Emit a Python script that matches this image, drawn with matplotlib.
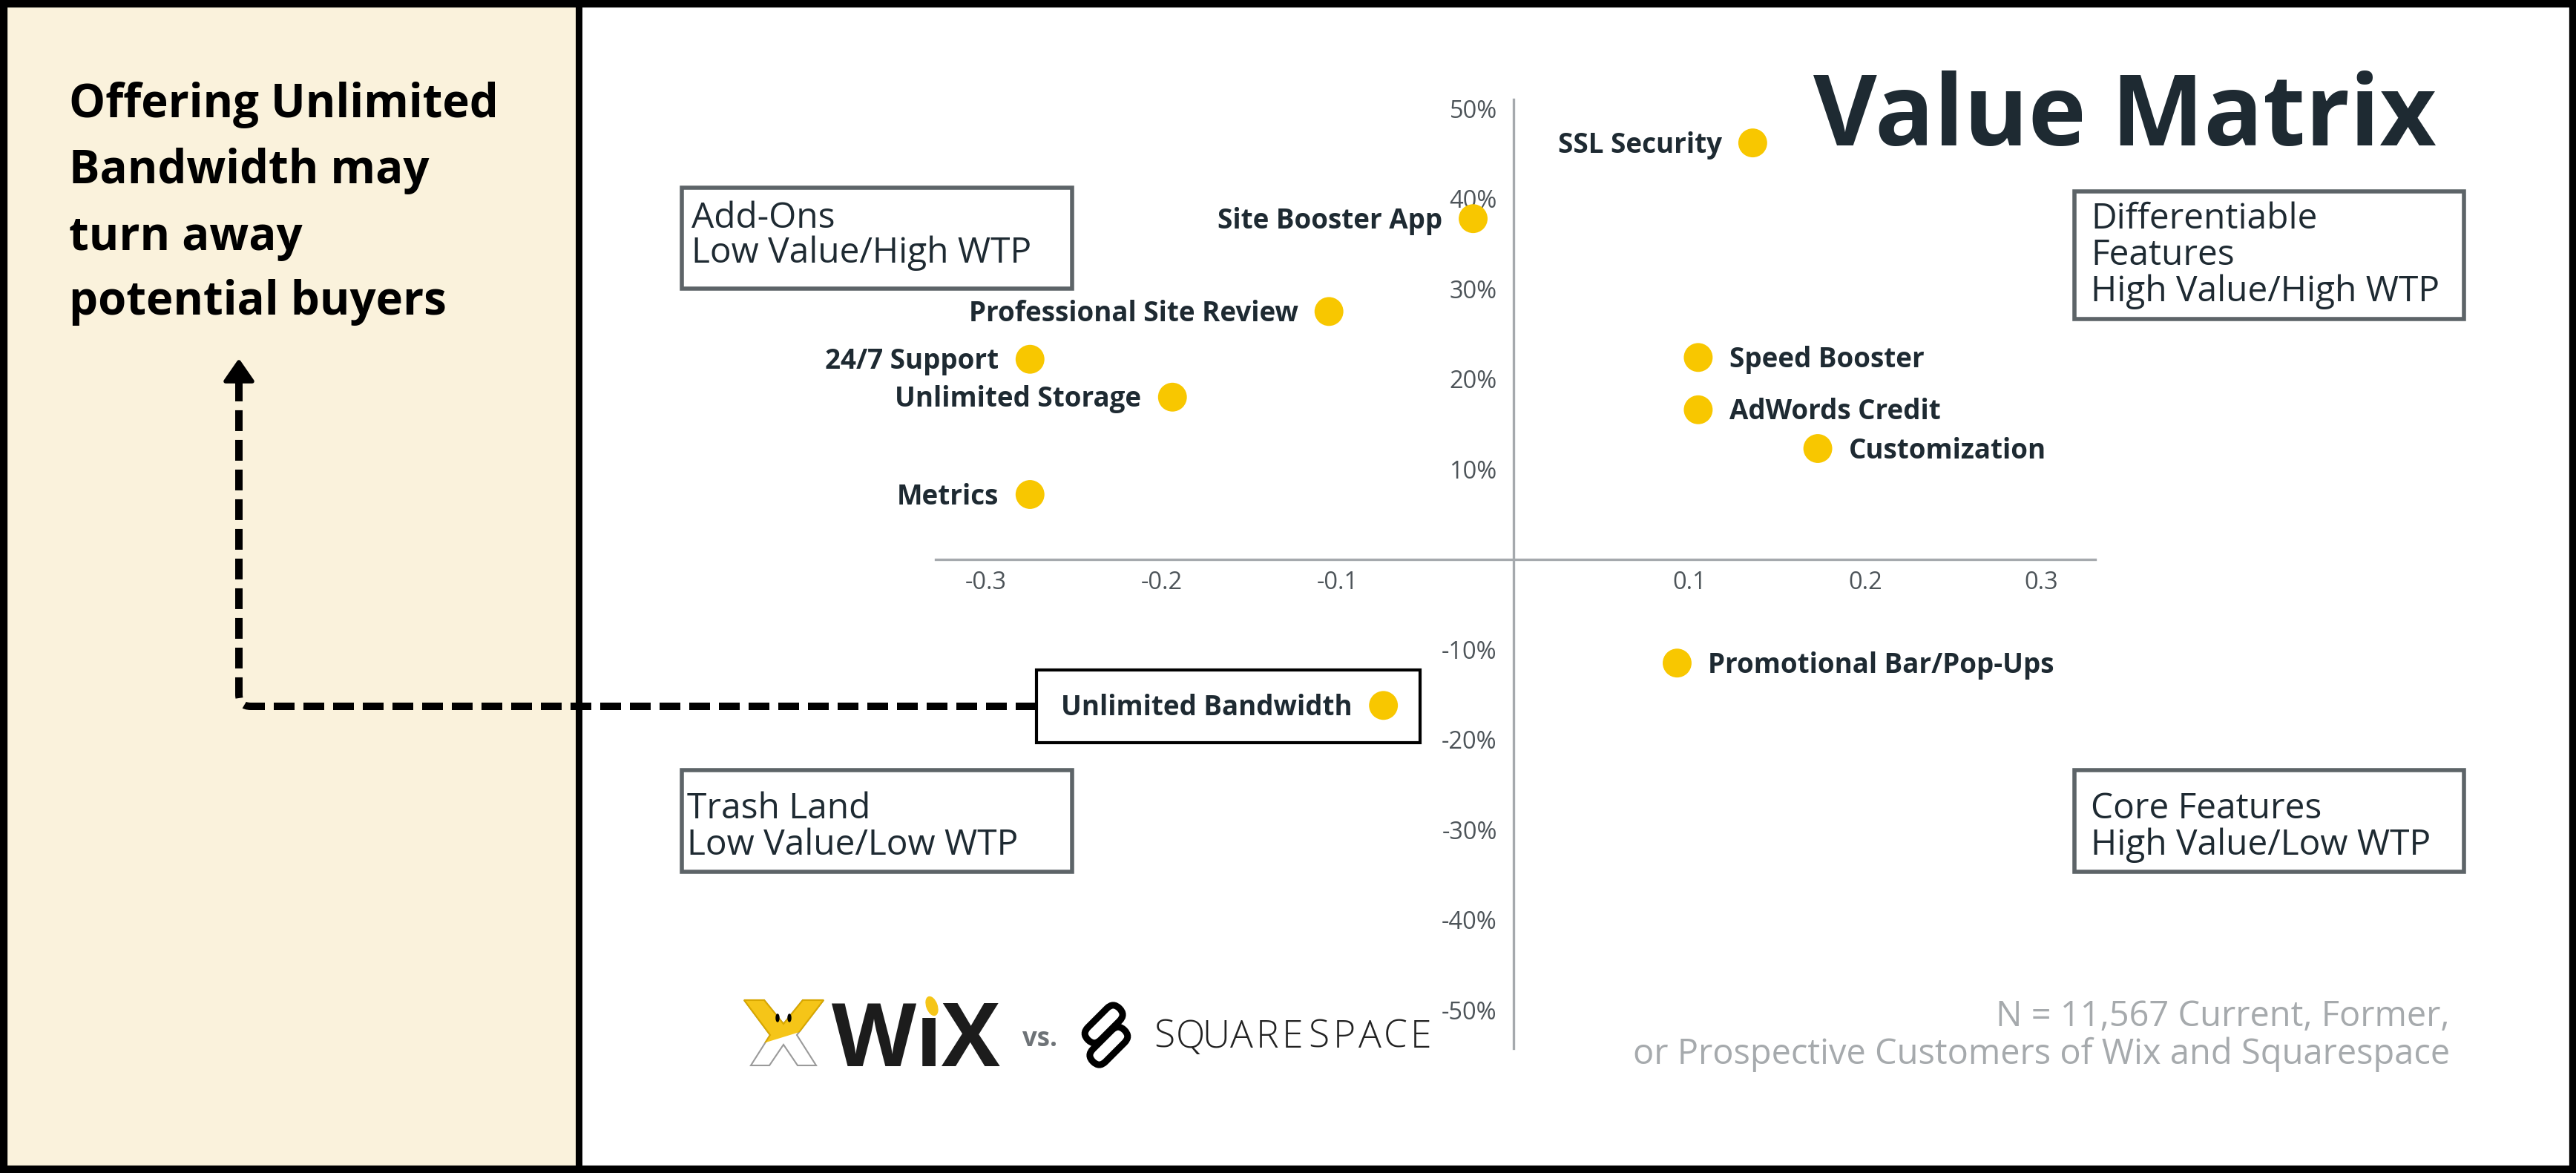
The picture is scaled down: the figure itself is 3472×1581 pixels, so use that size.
import matplotlib
matplotlib.use("Agg")
import matplotlib.pyplot as plt
import matplotlib.transforms as mtransforms
from matplotlib.patches import Rectangle, Polygon, PathPatch, FancyBboxPatch, Ellipse
from matplotlib.path import Path

plt.rcParams['font.family'] = ['Open Sans', 'DejaVu Sans']

# feature scores (x = value, y = willingness to pay)
features = ['SSL Security', 'Site Booster App', 'Professional Site Review',
            '24/7 Support', 'Unlimited Storage', 'Metrics', 'Speed Booster',
            'AdWords Credit', 'Customization', 'Promotional Bar/Pop-Ups',
            'Unlimited Bandwidth']
value_score = [0.136, -0.023, -0.105, -0.275, -0.194, -0.275, 0.105, 0.105,
               0.173, 0.093, -0.074]
wtp_score = [0.462, 0.378, 0.275, 0.222, 0.180, 0.072, 0.224, 0.166,
             0.123, -0.115, -0.162]
right_labelled = ['Speed Booster', 'AdWords Credit', 'Customization',
                  'Promotional Bar/Pop-Ups']

x_ticks = [-0.3, -0.2, -0.1, 0.1, 0.2, 0.3]
x_tick_labels = ['-0.3', '-0.2', '-0.1', '0.1', '0.2', '0.3']
y_ticks = [0.5, 0.4, 0.3, 0.2, 0.1, -0.1, -0.2, -0.3, -0.4, -0.5]
y_tick_labels = ['50%', '40%', '30%', '20%', '10%',
                 '-10%', '-20%', '-30%', '-40%', '-50%']

note_lines = ['Offering Unlimited', 'Bandwidth may', 'turn away',
              'potential buyers']

W, H, DPI = 3473, 1581, 100
DARK = '#1e2a32'
YELLOW = '#F8C700'

fig = plt.figure(figsize=(W / DPI, H / DPI), dpi=DPI)
fig.patch.set_facecolor('white')

# background layer (pixel coords, y down)
bg = fig.add_axes([0, 0, 1, 1], zorder=0)
bg.set_xlim(0, W)
bg.set_ylim(H, 0)
bg.axis('off')
bg.add_patch(Rectangle((0, 0), 780, H, facecolor='#FAF2DC', edgecolor='none'))

# the matrix itself
ax = fig.add_axes([1261 / W, 1 - 1413 / H, 1562.6 / W, 1279.3 / H], zorder=1)
ax.set_facecolor('none')
ax.set_xlim(-0.3287, 0.3306)
ax.set_ylim(-0.5424, 0.5105)
for side in ['top', 'right']:
    ax.spines[side].set_visible(False)
for side in ['left', 'bottom']:
    ax.spines[side].set_position(('data', 0))
    ax.spines[side].set_color('#a5a9ad')
    ax.spines[side].set_linewidth(2.4)
ax.set_xticks(x_ticks)
ax.set_xticklabels(x_tick_labels)
ax.set_yticks(y_ticks)
ax.set_yticklabels(y_tick_labels)
ax.tick_params(axis='x', length=0, pad=11, labelsize=23.5, labelcolor='#4d5459')
ax.tick_params(axis='y', length=0, pad=16, labelsize=23.5, labelcolor='#4d5459')

ax.scatter(value_score, wtp_score, s=784, color=YELLOW, edgecolors='none',
           zorder=3, clip_on=False)
for name, xv, yv in zip(features, value_score, wtp_score):
    if name in right_labelled:
        dx, ha = 30, 'left'
    else:
        dx, ha = -30, 'right'
    ax.annotate(name, (xv, yv), xytext=(dx, -9.4), textcoords='offset points',
                ha=ha, va='baseline', fontsize=26.5, fontweight='bold', color=DARK)

# overlay layer for frame, notes and labels
ov = fig.add_axes([0, 0, 1, 1], zorder=2)
ov.set_xlim(0, W)
ov.set_ylim(H, 0)
ov.axis('off')
ov.patch.set_alpha(0)

ov.add_patch(Rectangle((5, 5), W - 10, H - 10, fill=False, edgecolor='black',
                       lw=7.4, clip_on=False))
ov.plot([780, 780], [0, H], color='black', lw=6.5, solid_capstyle='butt')

for line, base in zip(note_lines, [158, 247, 337, 424]):
    ov.text(93, base, line, ha='left', va='baseline', fontsize=44.5,
            fontweight='bold', color='black')

# dashed call-out arrow from the box to the note
verts = [(1397, 952), (338, 952), (322, 952), (322, 936), (322, 512)]
codes = [Path.MOVETO, Path.LINETO, Path.CURVE3, Path.CURVE3, Path.LINETO]
ov.add_patch(PathPatch(Path(verts, codes), fill=False, edgecolor='black',
                       lw=7.2, linestyle=(0, (2.8, 1.2)), capstyle='butt'))
ov.add_patch(Polygon([(322, 488), (304, 514), (340, 514)], closed=True,
                     facecolor='black', edgecolor='black', lw=4,
                     joinstyle='round'))

ov.add_patch(Rectangle((1397, 903), 517, 98, fill=False, edgecolor='black',
                       lw=3))

ov.text(2864, 196, 'Value Matrix', ha='center', va='baseline', fontsize=95,
        fontweight='bold', color=DARK)


def quad_box(x0, y0, x1, y1, lines, baselines, tx):
    ov.add_patch(Rectangle((x0, y0), x1 - x0, y1 - y0, fill=False,
                           edgecolor='#5d6468', lw=4))
    for txt, b in zip(lines, baselines):
        ov.text(tx, b, txt, ha='left', va='baseline', fontsize=34.5,
                color=DARK)


quad_box(919, 253, 1445, 389, ['Add-Ons', 'Low Value/High WTP'], [307, 354], 932)
quad_box(2796, 258, 3321, 430, ['Differentiable', 'Features', 'High Value/High WTP'],
         [308, 357, 406], 2818)
quad_box(919, 1038, 1445, 1175, ['Trash Land', 'Low Value/Low WTP'], [1103, 1152], 926)
quad_box(2796, 1038, 3321, 1175, ['Core Features', 'High Value/Low WTP'],
         [1103, 1152], 2818)

ov.text(3302, 1383, 'N = 11,567 Current, Former,', ha='right', va='baseline',
        fontsize=33.8, color='#a6aaad')
ov.text(3302, 1434, 'or Prospective Customers of Wix and Squarespace',
        ha='right', va='baseline', fontsize=33.8, color='#a6aaad')

# Wix logo (mascot + wordmark)
mascot = [(1003, 1348), (1030, 1348), (1056, 1380), (1082, 1348), (1110, 1348),
          (1074, 1395), (1100, 1436), (1075, 1436), (1056, 1408), (1037, 1436),
          (1012, 1436), (1038, 1395)]
ov.add_patch(Polygon(mascot, closed=True, facecolor='white',
                     edgecolor='#9a9a9a', lw=1.5))
top_half = Polygon(mascot, closed=True, facecolor='#F5C518', edgecolor='#d9a800',
                   lw=1.5)
ov.add_patch(top_half)
clip = Polygon([(990, 1340), (1120, 1340), (1120, 1378), (990, 1418)],
               closed=True, transform=ov.transData)
top_half.set_clip_path(clip)
for ex in [1048, 1064]:
    ov.add_patch(Ellipse((ex, 1372), 4, 10, color='black'))
ov.text(1121, 1437, 'W', ha='left', va='baseline', fontsize=85,
        fontweight='bold', color='#1c1c1c')
ov.text(1252, 1437, '\u0131', ha='center', va='baseline', fontsize=85,
        fontweight='bold', color='#1c1c1c')
ov.text(1348, 1437, 'X', ha='right', va='baseline', fontsize=85,
        fontweight='bold', color='#1c1c1c')
ov.add_patch(Ellipse((1256, 1356), 14, 26, angle=-20, color='#F5C518'))

ov.text(1378, 1410, 'vs.', ha='left', va='baseline', fontsize=25,
        fontweight='bold', color='#6e7377')

# Squarespace mark: two interlocked rounded links
for cx, cy, sh in [(1482, 1386, 8), (1500, 1404, -8)]:
    link = FancyBboxPatch((-30, -12), 60, 24,
                          boxstyle='round,pad=0,rounding_size=12',
                          fill=False, edgecolor='black', lw=6.5)
    tr = (mtransforms.Affine2D().translate(sh, 0).rotate_deg(-45)
          .translate(cx, cy) + ov.transData)
    link.set_transform(tr)
    ov.add_patch(link)

for i, ch in enumerate('SQUARESPACE'):
    ov.text(1552 + 34.6 * (i + 0.5), 1412, ch, ha='center', va='baseline',
            fontsize=37, fontweight='light', color='#222222')

fig.savefig('out.png', dpi=DPI, facecolor='white')
